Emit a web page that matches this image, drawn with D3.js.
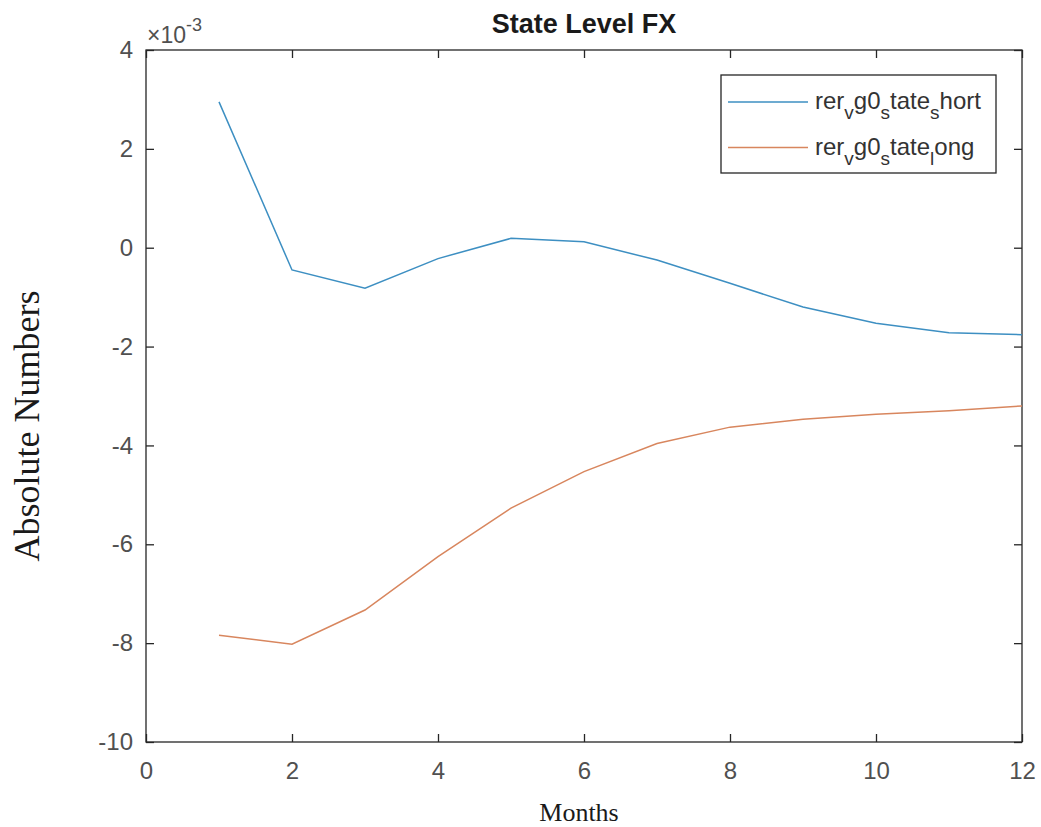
<!DOCTYPE html>
<html><head><meta charset="utf-8">
<script src="https://cdn.jsdelivr.net/npm/d3@7"></script>
<style>body{margin:0;background:#fff;} svg{display:block;}</style>
</head><body>
<svg id="chart" width="1041" height="827"></svg>
<script>
const months = [1,2,3,4,5,6,7,8,9,10,11,12];
const stateShort = [2.95,-0.45,-0.82,-0.22,0.19,0.12,-0.25,-0.72,-1.20,-1.53,-1.72,-1.76];
const stateLong = [-7.84,-8.02,-7.33,-6.25,-5.27,-4.53,-3.96,-3.63,-3.47,-3.37,-3.30,-3.20];
const xTicks = [0,2,4,6,8,10,12];
const yTicks = [4,2,0,-2,-4,-6,-8,-10];
const seriesNames = ["short","long"];

const svg = d3.select("#chart");
const m = {l:146, r:1022, t:50, b:742};
const x = d3.scaleLinear().domain([0,12]).range([m.l,m.r]);
const y = d3.scaleLinear().domain([-10,4]).range([m.b,m.t]);
const axisCol = "#262626", labCol = "#505050";
const sans = "'Liberation Sans', Arial, sans-serif";
const serif = "'Liberation Serif', 'Times New Roman', serif";
const fmt = d => String(d);

// plot box
svg.append("rect").attr("x",m.l).attr("y",m.t).attr("width",m.r-m.l).attr("height",m.b-m.t)
  .attr("fill","#fff").attr("stroke",axisCol).attr("stroke-width",1.3);

function styleAxis(g){
  g.select(".domain").remove();
  g.selectAll(".tick line").attr("stroke",axisCol).attr("stroke-width",1.3);
  g.selectAll(".tick text").attr("fill",labCol).style("font-family",sans).style("font-size","24px");
}
// bottom & top
const gb = svg.append("g").attr("transform",`translate(0,${m.b})`)
  .call(d3.axisBottom(x).tickValues(xTicks).tickSize(-8).tickPadding(20).tickFormat(fmt));
styleAxis(gb);
const gt = svg.append("g").attr("transform",`translate(0,${m.t})`)
  .call(d3.axisTop(x).tickValues(xTicks).tickSize(-8).tickFormat(""));
styleAxis(gt);
const gl = svg.append("g").attr("transform",`translate(${m.l},0)`)
  .call(d3.axisLeft(y).tickValues(yTicks).tickSize(-8).tickPadding(13).tickFormat(fmt));
styleAxis(gl);
const gr = svg.append("g").attr("transform",`translate(${m.r},0)`)
  .call(d3.axisRight(y).tickValues(yTicks).tickSize(-8).tickFormat(""));
styleAxis(gr);

// exponent label
const ex = svg.append("text").attr("x",147).attr("y",43).attr("fill",labCol)
  .style("font-family",sans).style("font-size","23px");
ex.append("tspan").text("\u00d710");
ex.append("tspan").attr("dy",-12).style("font-size","18px").text("-3");

// lines
const line = d3.line().x((d,i)=>x(months[i])).y(d=>y(d));
const colors = {short:"#3d8fc2", long:"#d8865e"};
svg.append("path").datum(stateShort).attr("d",line).attr("fill","none")
  .attr("stroke",colors.short).attr("stroke-width",1.5);
svg.append("path").datum(stateLong).attr("d",line).attr("fill","none")
  .attr("stroke",colors.long).attr("stroke-width",1.5);

// title
svg.append("text").attr("x",(m.l+m.r)/2).attr("y",33).attr("text-anchor","middle")
  .attr("fill","#1a1a1a").style("font-family",sans).style("font-weight","bold").style("font-size","27px")
  .text("State Level FX");

// axis labels
svg.append("text").attr("x",579).attr("y",821).attr("text-anchor","middle").attr("fill","#1a1a1a")
  .style("font-family",serif).style("font-size","26px").text("Months");
svg.append("text").attr("transform","translate(39,426) rotate(-90)").attr("text-anchor","middle")
  .attr("fill","#1a1a1a").style("font-family",serif).style("font-size","36px").text("Absolute Numbers");

// legend
const lg = svg.append("g");
lg.append("rect").attr("x",721).attr("y",75).attr("width",275).attr("height",98)
  .attr("fill","#fff").attr("stroke",axisCol).attr("stroke-width",1.3);
const legendRows = [
  {key:"short", parts:[["rer",0],["v",1],["g0",0],["s",1],["tate",0],["s",1],["hort",0]]},
  {key:"long", parts:[["rer",0],["v",1],["g0",0],["s",1],["tate",0],["l",1],["ong",0]]}
];
legendRows.forEach((r,i)=>{
  const yy = 102 + i*45.5;
  lg.append("line").attr("x1",728).attr("x2",808).attr("y1",yy).attr("y2",yy)
    .attr("stroke",colors[r.key]).attr("stroke-width",1.5);
  const t = lg.append("text").attr("x",815).attr("y",yy+7).attr("fill","#333")
    .style("font-family",sans).style("font-size","24px");
  let prevSub = 0;
  r.parts.forEach(([s,sub])=>{
    const sp = t.append("tspan").text(s);
    const dy = (sub?10:0) - (prevSub?10:0);
    if(dy) sp.attr("dy",dy);
    if(sub) sp.style("font-size","19px");
    prevSub = sub;
  });
});
</script>
</body></html>
